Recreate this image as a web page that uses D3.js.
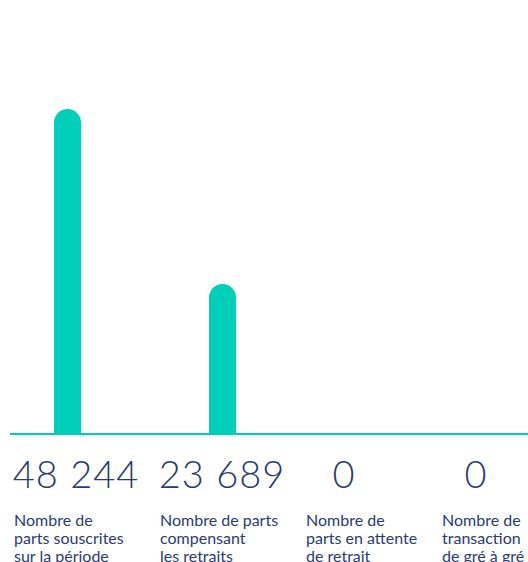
<!DOCTYPE html>
<meta charset="utf-8">
<style>
    body { margin: 0; background: #fff; }
    text { font-family: 'Lato', 'Noto Sans', sans-serif; }
</style>
<div id="chart"></div>
<script src="https://cdn.jsdelivr.net/npm/d3@7"></script>
<script>

    // data
    var categories = ["souscrites", "compensant", "attente", "gre"];
    var values = [48244, 23689, 0, 0];
    var valueLabels = ["48 244", "23 689", "0", "0"];
    var labelLines = [
        ["Nombre de", "parts souscrites", "sur la période"],
        ["Nombre de parts", "compensant", "les retraits"],
        ["Nombre de", "parts en attente", "de retrait"],
        ["Nombre de", "transaction", "de gré à gré"]
    ];

    var width = 528, height = 562;
    var teal = "#00cfba", navy = "#2b3c72";
    var baseY = 434, barW = 27;

    var svg = d3.select("#chart").append("svg")
                .attr("width", width)
                .attr("height", height);

    var xBar = d3.scaleOrdinal().domain(categories).range([67.5, 222.5, 344, 476]);
    var xNum = d3.scaleOrdinal().domain(categories).range([76, 222, 344, 476]);
    var xLab = d3.scaleOrdinal().domain(categories).range([14, 160, 306, 442]);
    var y = d3.scaleLinear().domain([2630, 48244]).range([baseY, 109]).clamp(true);

    var data = categories.map((c, i) => ({cat: c, value: values[i], label: valueLabels[i], lines: labelLines[i]}));

    // rounded-top bars
    function barPath(d) {
        var top = y(d.value), r = barW / 2, x0 = xBar(d.cat) - r;
        if (baseY - top < r) return null;
        return "M" + x0 + "," + baseY +
               "V" + (top + r) +
               "A" + r + "," + r + " 0 0 1 " + (x0 + barW) + "," + (top + r) +
               "V" + baseY + "Z";
    }

    svg.append("g")
       .selectAll("path")
       .data(data.filter(d => d.value > 0))
       .join("path")
       .attr("d", barPath)
       .attr("fill", teal);

    svg.append("line")
       .attr("x1", 10).attr("x2", width)
       .attr("y1", baseY).attr("y2", baseY)
       .attr("stroke", teal)
       .attr("stroke-width", 2);

    svg.append("g")
       .selectAll("text")
       .data(data)
       .join("text")
       .attr("x", d => xNum(d.cat))
       .attr("y", 488)
       .attr("text-anchor", "middle")
       .attr("fill", navy)
       .style("font-size", "38px")
       .style("font-weight", 300)
       .style("letter-spacing", "1px")
       .text(d => d.label);

    var lab = svg.append("g")
                 .selectAll("text")
                 .data(data)
                 .join("text")
                 .attr("x", d => xLab(d.cat))
                 .attr("y", 526)
                 .attr("fill", navy)
                 .style("font-size", "16px");

    lab.selectAll("tspan")
       .data(d => d.lines.map(l => ({text: l, x: xLab(d.cat)})))
       .join("tspan")
       .attr("x", t => t.x)
       .attr("dy", (t, i) => i === 0 ? 0 : 18)
       .text(t => t.text);

</script>
